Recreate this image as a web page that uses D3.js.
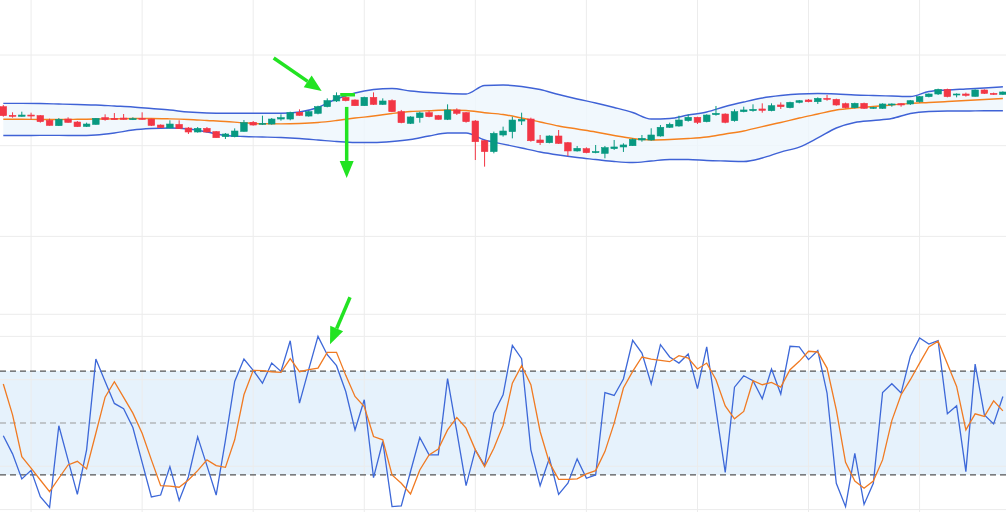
<!DOCTYPE html>
<html lang="en">
<head>
  <meta charset="UTF-8">
  <title>Candles, Bollinger bands and stochastic</title>
  <script src="https://cdnjs.cloudflare.com/ajax/libs/d3/7.8.5/d3.min.js"></script>
  <style>
    body { margin: 0; background: #fff; }
    svg { display: block; font-family: "Open Sans", sans-serif; }
    .grid line { stroke: #ececec; stroke-width: 1px; }
  </style>
</head>
<body>
<svg id="chart" width="1006" height="512"></svg>
<script>
  // --- price candles (one per session, index 0..108) ---
  var opens = [104.30,103.35,103.24,103.38,103.31,102.80,102.21,102.94,102.61,102.13,
    102.35,103.09,103.02,103.05,102.91,103.02,102.94,102.28,101.95,102.35,
    101.95,101.51,101.91,101.55,101.00,101.00,101.58,102.58,102.36,102.39,
    102.94,102.94,103.68,103.27,103.57,104.30,104.93,105.33,105.04,104.41,
    105.33,104.56,104.97,103.75,102.47,103.09,103.64,103.31,102.91,103.94,
    103.64,102.72,100.55,99.35,101.18,101.55,102.72,102.94,100.63,100.33,
    101.07,100.33,99.42,99.67,99.23,99.16,99.67,99.86,100.00,100.63,
    100.63,101.07,102.03,102.17,102.76,103.13,102.65,103.42,103.49,102.76,
    103.75,103.86,104.05,103.86,104.49,104.19,104.78,105.04,104.85,105.22,
    105.11,104.63,104.19,104.67,104.12,104.12,104.49,104.63,104.60,104.85,
    105.41,105.70,106.21,105.59,105.70,105.44,106.14,105.77,105.66];
  var highs = [104.49,103.68,103.75,103.64,103.38,102.98,103.05,103.13,102.72,102.54,
    103.05,103.46,103.60,103.49,103.13,103.68,102.98,102.35,102.80,102.80,
    102.06,102.06,102.06,101.62,101.40,101.91,102.83,102.72,103.31,103.05,
    103.46,103.75,104.01,103.86,104.41,105.22,105.88,105.81,105.11,105.41,
    105.88,105.22,105.11,103.94,103.24,103.75,103.83,103.39,104.56,104.12,
    103.72,102.83,100.63,101.55,102.10,103.20,103.64,103.09,101.18,101.14,
    101.73,100.41,99.97,99.82,100.08,99.97,100.63,100.26,100.81,101.18,
    101.92,102.28,102.54,103.31,103.46,103.20,103.46,104.38,103.57,104.01,
    104.30,104.56,104.67,104.67,104.78,104.85,105.04,105.15,105.33,105.59,
    105.19,104.75,104.75,104.75,104.30,104.67,104.67,104.67,105.04,105.48,
    105.77,106.29,106.29,105.77,105.85,106.21,106.21,105.85,105.99];
  var lows = [103.20,103.09,103.20,102.91,102.54,102.21,102.17,102.54,102.06,102.06,
    102.32,102.76,102.87,102.87,102.83,102.87,102.17,101.95,101.91,101.84,
    101.29,101.44,101.44,100.88,100.74,100.92,101.55,102.21,102.28,102.32,
    102.76,102.80,103.31,103.20,103.46,104.23,104.82,104.89,104.38,104.38,
    104.49,104.49,103.72,102.47,102.39,102.54,103.13,102.87,102.83,103.39,
    102.54,98.42,97.69,99.16,101.00,100.81,102.28,100.44,100.08,100.26,
    100.19,98.87,99.35,99.16,99.16,98.61,99.53,99.31,99.97,100.44,
    100.55,101.00,101.95,102.10,102.65,102.39,102.58,103.31,102.47,102.65,
    103.68,103.75,103.64,103.79,104.05,104.12,104.67,104.78,104.60,104.96,
    104.41,104.12,104.12,104.05,104.05,104.05,104.30,104.30,104.49,104.75,
    105.33,105.59,105.33,105.33,105.41,105.41,105.70,105.59,105.59];
  var closes = [103.31,103.24,103.38,103.27,102.65,102.24,102.91,102.57,102.10,102.39,
    103.02,102.87,102.87,102.91,102.98,102.91,102.24,101.99,102.39,101.88,
    101.51,101.91,101.51,100.88,101.29,101.62,102.54,102.28,102.47,102.94,
    103.09,103.64,103.35,103.75,104.30,104.97,105.52,104.97,104.41,105.33,
    104.56,104.93,103.75,102.54,103.17,103.61,103.20,102.91,103.94,103.57,
    102.65,100.44,99.35,101.36,101.62,102.83,102.91,100.55,100.33,101.07,
    100.26,99.42,99.71,99.23,99.35,99.78,99.86,100.08,100.70,100.81,
    101.18,102.03,102.36,102.83,103.13,102.58,103.38,103.57,102.58,103.75,
    103.94,104.01,103.90,104.41,104.30,104.78,104.96,104.85,105.22,105.11,
    104.49,104.19,104.67,104.12,104.23,104.60,104.60,104.49,104.96,105.41,
    105.70,106.21,105.41,105.70,105.55,106.14,105.77,105.66,105.92];

  // --- Bollinger bands, read every second session ---
  var bandIndex = d3.range(0, 109, 2);
  var upperBand = [104.67,104.67,104.65,104.60,104.54,104.49,104.38,104.27,104.10,103.93,
    103.71,103.60,103.57,103.57,103.57,103.57,103.71,104.21,105.15,105.81,
    106.19,106.31,106.03,105.86,105.75,105.70,106.64,106.69,106.53,106.19,
    105.64,105.15,104.71,104.21,103.66,102.94,103.00,103.38,103.71,104.32,
    104.82,105.26,105.53,105.70,105.75,105.70,105.59,105.53,105.48,105.42,
    105.97,106.14,106.25,106.36,106.50];
  var middleBand = [102.91,102.91,102.89,102.89,102.91,102.94,102.96,103.00,103.00,102.96,
    102.89,102.78,102.67,102.52,102.42,102.41,102.45,102.56,102.78,103.05,
    103.27,103.55,103.77,103.86,103.93,103.88,103.64,103.44,103.05,102.61,
    102.17,101.84,101.51,101.12,100.79,100.63,100.68,100.79,100.96,101.29,
    101.62,102.11,102.56,103.05,103.49,103.93,104.16,104.32,104.49,104.67,
    104.76,104.87,104.98,105.09,105.20];
  var lowerBand = [101.12,101.12,101.14,101.14,101.12,101.18,101.40,101.73,101.89,101.95,
    101.84,101.51,101.12,101.01,100.96,100.90,100.79,100.63,100.46,100.35,
    100.35,100.46,100.68,101.07,101.40,101.40,100.63,100.18,99.74,99.30,
    98.97,98.70,98.48,98.26,98.14,98.31,98.48,98.48,98.37,98.31,
    98.26,98.64,99.30,99.85,100.85,101.95,102.56,102.78,103.00,103.55,
    103.77,103.82,103.82,103.86,103.86];

  // --- stochastic oscillator ---
  var stochK = [42.6,32.2,17.7,22.7,7.5,1.3,48.4,28.6,8.8,34.5,
    86.9,74.0,61.3,58.2,47.4,27.3,7.3,8.4,24.8,5.3,
    19.0,42.0,25.4,8.4,40.0,74.0,86.9,80.4,73.0,84.6,
    79.8,97.5,61.5,81.0,100,89.4,83.1,68.2,46.0,63.4,
    18.5,39.3,1.7,2.1,22.0,41.6,31.6,31.6,75.6,45.0,
    13.8,34.5,25.4,55.7,66.3,94.8,87.1,34.5,13.8,29.6,
    8.8,15.2,29.3,18.1,20.0,67.6,65.9,75.4,97.7,90.4,
    72.5,95.2,88.1,84.6,89.8,69.8,93.9,57.6,21.5,70.7,
    77.3,74.4,64.0,81.2,66.7,94.3,93.9,86.6,91.8,67.3,
    15.2,1.7,32.5,3.0,15.2,67.6,72.7,67.3,88.5,99.1,
    95.6,97.5,55.3,59.9,21.9,84.0,54.7,49.5,65.3];
  var stochD = [72.5,54.7,30.6,23.9,17.1,10.4,18.1,25.8,27.9,23.5,
    44.1,64.9,73.8,64.8,55.7,44.1,28.7,13.8,13.6,12.9,
    17.1,22.5,28.7,25.4,24.4,40.3,66.3,80.4,80.2,79.6,
    79.2,87.1,79.6,80.8,81.7,90.8,90.8,77.5,65.3,59.5,
    42.2,40.3,20.0,15.2,9.0,22.9,31.6,35.0,46.0,53.2,
    47.0,34.5,24.8,35.4,48.6,73.0,83.1,72.1,45.1,27.1,
    17.5,17.5,17.7,20.6,22.5,33.5,49.9,70.2,79.8,88.1,
    86.9,86.2,85.4,88.9,87.5,81.2,84.6,75.0,59.9,52.4,
    56.7,74.4,72.1,73.4,70.7,80.8,85.6,91.4,91.0,81.7,
    57.6,27.3,16.5,12.3,16.5,28.7,51.4,66.3,75.0,84.6,
    93.9,97.2,84.2,71.1,46.0,55.3,53.8,62.8,57.0];
  var stochLevels = [20, 50, 80];

  // --- axes ticks and annotations ---
  var priceTicks = [90, 100, 110];
  var stochTicks = [0, 25, 75, 100];
  var timeTicks = d3.range(3, 109, 12);
  var arrows = [
    {panel: "price", i: 34.4, v: 106.03, ax: -48, ay: -33},
    {panel: "price", i: 37.1, v: 96.45, ax: 0, ay: -71},
    {panel: "stoch", i: 35.3, v: 95.5, ax: 20, ay: -47}
  ];
  var marker = {i0: 36.4, i1: 38.0, v: 105.62};

  var width = 1006, height = 512;
  var svg = d3.select("#chart");

  var x = d3.scaleLinear().domain([0, 108]).range([3.3, 1002.9]);
  var yPrice = d3.scaleLinear().domain([90, 110]).range([236.4, 55]);
  var yStoch = d3.scaleLinear().domain([0, 100]).range([509.6, 336.4]);
  var panelSplit = 314.3;

  // grid
  var grid = svg.append("g").attr("class", "grid");
  grid.selectAll("line.v").data(timeTicks).enter().append("line")
      .attr("x1", d => x(d)).attr("x2", d => x(d))
      .attr("y1", 0).attr("y2", height);
  grid.selectAll("line.hp").data(priceTicks).enter().append("line")
      .attr("x1", 0).attr("x2", width)
      .attr("y1", d => yPrice(d)).attr("y2", d => yPrice(d));
  grid.append("line")
      .attr("x1", 0).attr("x2", width)
      .attr("y1", panelSplit).attr("y2", panelSplit);

  // stochastic band 20-80
  svg.append("rect")
      .attr("x", 0).attr("width", width)
      .attr("y", yStoch(80)).attr("height", yStoch(20) - yStoch(80))
      .attr("fill", "#e3f1fc").attr("opacity", 0.9);

  grid.raise();
  svg.select(".grid").selectAll("line.hs").data(stochTicks).enter().append("line")
      .attr("class", "hs")
      .attr("x1", 0).attr("x2", width)
      .attr("y1", d => yStoch(d)).attr("y2", d => yStoch(d));

  svg.selectAll("line.level").data(stochLevels).enter().append("line")
      .attr("class", "level")
      .attr("x1", 0).attr("x2", width)
      .attr("y1", d => yStoch(d)).attr("y2", d => yStoch(d))
      .attr("stroke", d => d === 50 ? "#999" : "#555")
      .attr("stroke-width", d => d === 50 ? 1 : 1.2)
      .attr("stroke-dasharray", "6,4");

  // bollinger bands
  var bands = bandIndex.map((d, k) => ({i: d, up: upperBand[k], mid: middleBand[k], lo: lowerBand[k]}));
  var curve = d3.curveMonotoneX;
  svg.append("path").datum(bands)
      .attr("fill", "#eef6fd").attr("opacity", 0.8)
      .attr("d", d3.area().curve(curve)
          .x(d => x(d.i)).y0(d => yPrice(d.lo)).y1(d => yPrice(d.up)));
  svg.append("path").datum(bands)
      .attr("fill", "none").attr("stroke", "#3f62d6").attr("stroke-width", 1.4)
      .attr("d", d3.line().curve(curve).x(d => x(d.i)).y(d => yPrice(d.up)));
  svg.append("path").datum(bands)
      .attr("fill", "none").attr("stroke", "#3f62d6").attr("stroke-width", 1.4)
      .attr("d", d3.line().curve(curve).x(d => x(d.i)).y(d => yPrice(d.lo)));
  svg.append("path").datum(bands)
      .attr("fill", "none").attr("stroke", "#f5811f").attr("stroke-width", 1.4)
      .attr("d", d3.line().curve(curve).x(d => x(d.i)).y(d => yPrice(d.mid)));

  // candles
  var candles = opens.map((o, i) => ({i: i, o: o, h: highs[i], l: lows[i], c: closes[i]}));
  var bodyW = 6.6;
  var cg = svg.append("g").selectAll("g").data(candles).enter().append("g")
      .attr("class", "candle")
      .attr("stroke", d => d.c >= d.o ? "#089981" : "#f23645")
      .attr("fill", d => d.c >= d.o ? "#089981" : "#f23645");
  cg.append("line")
      .attr("x1", d => x(d.i)).attr("x2", d => x(d.i))
      .attr("y1", d => yPrice(d.h)).attr("y2", d => yPrice(d.l))
      .attr("stroke-width", 1);
  cg.append("rect")
      .attr("x", d => x(d.i) - bodyW / 2).attr("width", bodyW)
      .attr("y", d => yPrice(Math.max(d.o, d.c)))
      .attr("height", d => Math.max(1, Math.abs(yPrice(d.o) - yPrice(d.c))))
      .attr("stroke-width", 0.6);

  // stochastic lines
  svg.append("path").datum(stochK)
      .attr("fill", "none").attr("stroke", "#3d68d8").attr("stroke-width", 1.3)
      .attr("d", d3.line().x((d, i) => x(i)).y(d => yStoch(d)));
  svg.append("path").datum(stochD)
      .attr("fill", "none").attr("stroke", "#f07a22").attr("stroke-width", 1.3)
      .attr("d", d3.line().x((d, i) => x(i)).y(d => yStoch(d)));

  // annotations
  var green = "#22e322";
  svg.append("line")
      .attr("x1", x(marker.i0)).attr("x2", x(marker.i1))
      .attr("y1", yPrice(marker.v)).attr("y2", yPrice(marker.v))
      .attr("stroke", green).attr("stroke-width", 3.5);

  arrows.forEach(function(a) {
    var y = a.panel === "price" ? yPrice : yStoch;
    var tx = x(a.i), ty = y(a.v);
    var sx = tx + a.ax, sy = ty + a.ay;
    var ang = Math.atan2(ty - sy, tx - sx);
    var headL = 17, headW = 7;
    var bx = tx - headL * Math.cos(ang), by = ty - headL * Math.sin(ang);
    svg.append("line")
        .attr("x1", sx).attr("y1", sy).attr("x2", bx).attr("y2", by)
        .attr("stroke", green).attr("stroke-width", 3.5);
    var px = -Math.sin(ang) * headW, py = Math.cos(ang) * headW;
    svg.append("path")
        .attr("d", "M" + tx + "," + ty + "L" + (bx + px) + "," + (by + py) +
            "L" + (bx - px) + "," + (by - py) + "Z")
        .attr("fill", green);
  });
</script>
</body>
</html>
